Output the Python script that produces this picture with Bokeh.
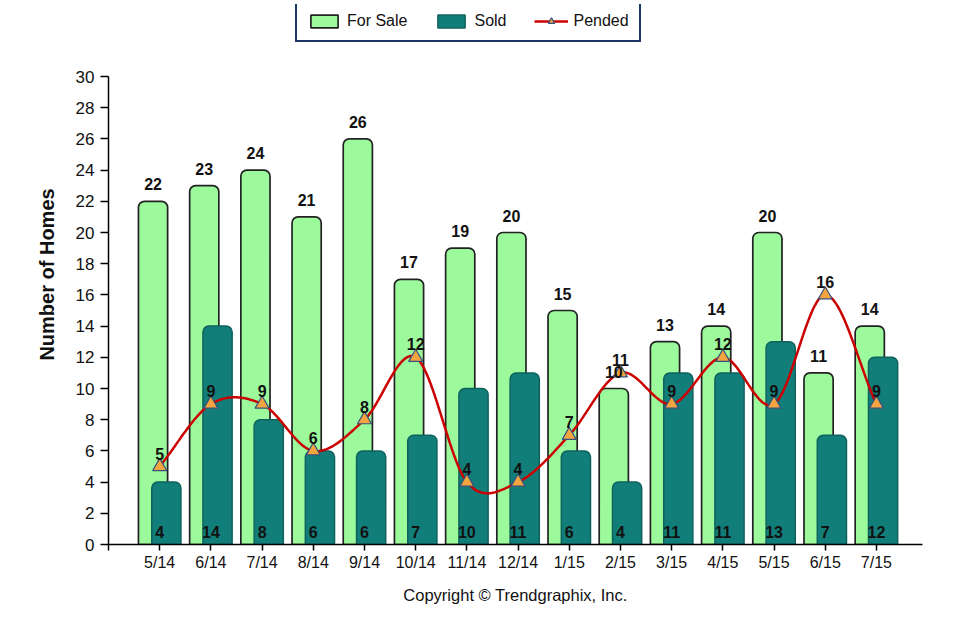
import numpy as np
from bokeh.plotting import figure
from bokeh.models import ColumnDataSource, FixedTicker, Legend, LegendItem, Title, Range1d
from bokeh.transform import dodge
from bokeh.embed import file_html
from bokeh.resources import INLINE
from bokeh.core.properties import value

months = ["5/14", "6/14", "7/14", "8/14", "9/14", "10/14", "11/14", "12/14",
          "1/15", "2/15", "3/15", "4/15", "5/15", "6/15", "7/15"]
for_sale = [22, 23, 24, 21, 26, 17, 19, 20, 15, 10, 13, 14, 20, 11, 14]
sold = [4, 14, 8, 6, 6, 7, 10, 11, 6, 4, 11, 11, 13, 7, 12]
pended = [5, 9, 9, 6, 8, 12, 4, 4, 7, 11, 9, 12, 9, 16, 9]
y_ticks = list(range(0, 31, 2))

FONT = "Liberation Sans"
idx = list(range(len(months)))

src = ColumnDataSource(dict(
    x=idx, fs=for_sale, sold=sold, pend=pended,
    fs_txt=[str(v) for v in for_sale],
    sold_txt=[str(v) for v in sold],
    pend_txt=[str(v) for v in pended],
    zero=[0] * len(idx),
))


def catmull_rom(xs, ys, n=24):
    ys = np.asarray(ys, dtype=float)
    m = np.empty_like(ys)
    m[1:-1] = (ys[2:] - ys[:-2]) / 2.0
    m[0] = ys[1] - ys[0]
    m[-1] = ys[-1] - ys[-2]
    X, Y = [], []
    for i in range(len(ys) - 1):
        t = np.linspace(0, 1, n, endpoint=False)
        h00 = 2 * t**3 - 3 * t**2 + 1
        h10 = t**3 - 2 * t**2 + t
        h01 = -2 * t**3 + 3 * t**2
        h11 = t**3 - t**2
        Y.extend(h00 * ys[i] + h10 * m[i] + h01 * ys[i + 1] + h11 * m[i + 1])
        X.extend(xs[i] + t * (xs[i + 1] - xs[i]))
    X.append(xs[-1])
    Y.append(ys[-1])
    return X, Y


cx, cy = catmull_rom(idx, pended)

# frame spans from y=4 (legend top) to y=544 (value 0); 30 units = 468 px
p = figure(width=964, height=614, output_backend="svg", toolbar_location=None,
           x_range=Range1d(-1, 14.9), y_range=Range1d(0, 30 * 540 / 468),
           min_border_left=108, min_border_right=42, min_border_top=4, min_border_bottom=70)
p.outline_line_color = None
p.xgrid.visible = False
p.ygrid.visible = False
p.background_fill_color = "white"

bw = 0.57
r_fs = p.vbar(x=dodge("x", -0.13), top="fs", bottom=0, width=bw, source=src,
              fill_color="#9CFA9C", line_color="#222222", line_width=1.7,
              border_radius=(6, 6, 0, 0))
r_sold = p.vbar(x=dodge("x", 0.13), top="sold", bottom=0, width=bw, source=src,
                fill_color="#127E79", line_color="#0E625D", line_width=1.5,
                border_radius=(6, 6, 0, 0))
r_line = p.line(cx, cy, line_color="#CC0000", line_width=2.5)
r_mark = p.scatter(x="x", y="pend", source=src, marker="triangle", size=14,
                   fill_color="#F5A540", line_color="#34507E", line_width=1.2)

p.text(x=dodge("x", -0.13), y="fs", text="fs_txt", source=src, text_align="center",
       text_baseline="middle", y_offset=-17, text_font=value(FONT), text_font_size="16px",
       text_font_style="bold", text_color="#111111")
p.text(x="x", y="zero", text="sold_txt", source=src, text_align="center",
       text_baseline="middle", y_offset=-13, text_font=value(FONT), text_font_size="16px",
       text_font_style="bold", text_color="#111111")
p.text(x="x", y="pend", text="pend_txt", source=src, text_align="center",
       text_baseline="middle", y_offset=-13, text_font=value(FONT), text_font_size="16px",
       text_font_style="bold", text_color="#111111")

# axes
p.yaxis.bounds = (0, 30)
p.yaxis.ticker = FixedTicker(ticks=y_ticks)
p.yaxis.minor_tick_line_color = None
p.yaxis.major_tick_in = 0
p.yaxis.major_tick_out = 8
p.yaxis.axis_line_width = 1.5
p.yaxis.major_tick_line_width = 1.5
p.yaxis.axis_line_color = "black"
p.yaxis.major_tick_line_color = "black"
p.yaxis.major_label_text_font = FONT
p.yaxis.major_label_text_font_size = "17px"
p.yaxis.major_label_text_color = "#111111"
p.yaxis.major_label_standoff = 6
p.yaxis.axis_label = "Number of Homes"
p.yaxis.axis_label_text_font = FONT
p.yaxis.axis_label_text_font_size = "20px"
p.yaxis.axis_label_text_font_style = "bold"
p.yaxis.axis_label_text_color = "#111111"
p.yaxis.axis_label_standoff = 15

p.xaxis.ticker = FixedTicker(ticks=[-1] + idx)
overrides = {-1: ""}
overrides.update({i: m for i, m in enumerate(months)})
p.xaxis.major_label_overrides = overrides
p.xaxis.minor_tick_line_color = None
p.xaxis.major_tick_in = 0
p.xaxis.major_tick_out = 6
p.xaxis.axis_line_width = 1.5
p.xaxis.major_tick_line_width = 1.5
p.xaxis.axis_line_color = "black"
p.xaxis.major_tick_line_color = "black"
p.xaxis.major_label_text_font = FONT
p.xaxis.major_label_text_font_size = "16px"
p.xaxis.major_label_text_color = "#111111"
p.xaxis.major_label_standoff = 3

p.add_layout(Title(text="Copyright \u00a9 Trendgraphix, Inc.", align="center",
                   text_font=FONT, text_font_size="16.5px", text_font_style="normal",
                   text_color="#111111", standoff=20), "below")

legend = Legend(items=[
    LegendItem(label="For Sale", renderers=[r_fs]),
    LegendItem(label="Sold", renderers=[r_sold]),
    LegendItem(label="Pended", renderers=[r_line, r_mark]),
], orientation="horizontal", location=(187, 502))
legend.label_text_font = FONT
legend.label_text_font_size = "16px"
legend.label_text_color = "#111111"
legend.glyph_width = 34
legend.glyph_height = 16
legend.label_standoff = 6
legend.spacing = 27
legend.padding = 10
legend.margin = 0
legend.border_line_color = "#1F3763"
legend.border_line_width = 2
legend.border_line_alpha = 1
legend.background_fill_color = "white"
legend.background_fill_alpha = 1
p.add_layout(legend, "center")

open("out.html", "w").write(file_html(p, INLINE))
